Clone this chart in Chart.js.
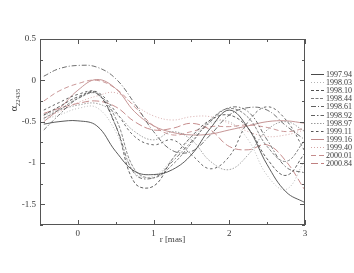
<!DOCTYPE html>
<html>
<head>
<meta charset="utf-8">
<script src="https://cdn.jsdelivr.net/npm/chart.js@4"></script>
<style>
  html, body { margin: 0; padding: 0; background: #fff; }
  #wrap { position: relative; width: 354px; height: 273px; }
</style>
</head>
<body>
<div id="wrap"><canvas id="c"></canvas></div>
<script>
// r [mas] sample positions
const rVals = [-0.45, -0.25, 0, 0.25, 0.5, 0.75, 1, 1.25, 1.5, 1.75, 2, 2.25, 2.5, 2.75, 3];

const epochs = ['1997.94', '1998.03', '1998.10', '1998.44', '1998.61', '1998.92',
  '1998.97', '1999.11', '1999.16', '1999.40', '2000.01', '2000.84'];

const s1997_94 = [-0.53, -0.5, -0.49, -0.55, -0.86, -1.1, -1.14, -1.08, -0.9, -0.58, -0.36, -0.58, -1.02, -1.35, -1.48];
const s1998_03 = [-0.47, -0.42, -0.34, -0.33, -0.62, -1.12, -1.16, -0.95, -0.7, -0.52, -0.5, -0.72, -1.15, -1.32, -0.96];
const s1998_10 = [-0.42, -0.32, -0.2, -0.15, -0.55, -1.24, -1.28, -0.95, -0.68, -0.48, -0.42, -0.58, -0.95, -1.15, -0.88];
const s1998_44 = [-0.46, -0.36, -0.22, -0.16, -0.46, -1.08, -1.18, -1.02, -0.76, -0.48, -0.34, -0.45, -0.8, -0.98, -0.72];
const s1998_61 = [0.05, 0.14, 0.18, 0.16, 0.02, -0.28, -0.62, -0.85, -0.86, -0.66, -0.42, -0.33, -0.36, -0.55, -0.72];
const s1998_92 = [-0.6, -0.42, -0.22, -0.16, -0.55, -1.13, -1.18, -0.98, -0.74, -0.5, -0.33, -0.38, -0.72, -1.05, -1.12];
const s1998_97 = [-0.42, -0.36, -0.3, -0.28, -0.4, -0.62, -0.72, -0.62, -0.72, -0.98, -1.08, -0.9, -0.6, -0.5, -0.62];
const s1999_11 = [-0.36, -0.27, -0.17, -0.14, -0.38, -0.68, -0.78, -0.72, -0.9, -1.07, -0.92, -0.5, -0.32, -0.48, -0.86];
const s1999_16 = [-0.5, -0.35, -0.12, 0.01, -0.1, -0.38, -0.55, -0.63, -0.66, -0.65, -0.6, -0.55, -0.5, -0.49, -0.52];
const s1999_40 = [-0.45, -0.38, -0.27, -0.19, -0.15, -0.3, -0.43, -0.48, -0.44, -0.44, -0.52, -0.62, -0.68, -0.66, -0.6];
const s2000_01 = [-0.25, -0.13, -0.04, 0.0, -0.1, -0.32, -0.55, -0.66, -0.62, -0.56, -0.56, -0.54, -0.57, -0.62, -0.58];
const s2000_84 = [-0.4, -0.34, -0.28, -0.25, -0.32, -0.5, -0.6, -0.58, -0.52, -0.6, -0.8, -0.84, -0.78, -0.98, -1.33];

const xTicks = [0, 1, 2, 3];
const yTicks = [-1.5, -1, -0.5, 0, 0.5];

const series = [s1997_94, s1998_03, s1998_10, s1998_44, s1998_61, s1998_92,
  s1998_97, s1999_11, s1999_16, s1999_40, s2000_01, s2000_84];

// line styles per epoch
const styles = [
  { color: '#4a4a4a', dash: [] },
  { color: '#b4b4b4', dash: [1, 2] },
  { color: '#505050', dash: [3, 2] },
  { color: '#7a7a7a', dash: [3, 1.5] },
  { color: '#606060', dash: [5, 2, 1, 2] },
  { color: '#606060', dash: [4, 2, 1.5, 2] },
  { color: '#9a9a9a', dash: [1.5, 1.5] },
  { color: '#555555', dash: [2.5, 2.5] },
  { color: '#c08a8a', dash: [] },
  { color: '#d4a4a4', dash: [1, 2] },
  { color: '#c58c8c', dash: [5, 3] },
  { color: '#c08080', dash: [7, 3] }
];

const SERIF = '"Liberation Serif", "DejaVu Serif", serif';
const INK = '#3a3a3a';

const frame = {
  id: 'frame',
  afterDraw(chart) {
    const { ctx, chartArea: a, scales: { x, y } } = chart;
    ctx.save();
    ctx.strokeStyle = '#555';
    ctx.lineWidth = 1;
    ctx.setLineDash([]);
    ctx.strokeRect(a.left + 0.5, a.top + 0.5, a.right - a.left - 1, a.bottom - a.top - 1);
    ctx.beginPath();
    // inward ticks on all four sides
    for (let v = 0; v <= 3.001; v += 0.5) {
      const px = Math.round(x.getPixelForValue(v)) + 0.5;
      const len = Number.isInteger(v) ? 5 : 3;
      ctx.moveTo(px, a.bottom); ctx.lineTo(px, a.bottom - len);
      ctx.moveTo(px, a.top); ctx.lineTo(px, a.top + len);
    }
    for (let v = -1.75; v <= 0.5001; v += 0.25) {
      const py = Math.round(y.getPixelForValue(v)) + 0.5;
      const len = Math.abs(v * 2 - Math.round(v * 2)) < 1e-6 ? 5 : 3;
      ctx.moveTo(a.left, py); ctx.lineTo(a.left + len, py);
      ctx.moveTo(a.right, py); ctx.lineTo(a.right - len, py);
    }
    ctx.stroke();

    // y axis title: alpha with subscript
    ctx.fillStyle = INK;
    ctx.translate(14, 100);
    ctx.rotate(-Math.PI / 2);
    ctx.textBaseline = 'alphabetic';
    ctx.textAlign = 'left';
    ctx.font = '10px ' + SERIF;
    const aw = ctx.measureText('α').width;
    const sub = '22435';
    ctx.font = '7px ' + SERIF;
    const sw = ctx.measureText(sub).width;
    const x0 = -(aw + sw) / 2;
    ctx.font = '10px ' + SERIF;
    ctx.fillText('α', x0, 3);
    ctx.font = '7px ' + SERIF;
    ctx.fillText(sub, x0 + aw, 6);
    ctx.restore();

    // legend
    ctx.save();
    ctx.font = '8px ' + SERIF;
    ctx.textBaseline = 'middle';
    ctx.textAlign = 'left';
    epochs.forEach((lab, i) => {
      const ly = Math.round(74 + i * 8.1) + 0.5;
      const st = styles[i];
      ctx.strokeStyle = st.color;
      ctx.lineWidth = 1;
      ctx.setLineDash(st.dash);
      ctx.beginPath();
      ctx.moveTo(311, ly); ctx.lineTo(324, ly);
      ctx.stroke();
      ctx.fillStyle = INK;
      ctx.fillText(lab, 326, ly);
    });
    ctx.restore();
  }
};

const datasets = series.map((vals, i) => ({
  label: epochs[i],
  data: vals.map((v, j) => ({ x: rVals[j], y: v })),
  borderColor: styles[i].color,
  borderDash: styles[i].dash,
  borderWidth: 0.9,
  pointRadius: 0,
  tension: 0.4,
  fill: false
}));

new Chart(document.getElementById('c'), {
  type: 'line',
  data: { datasets },
  options: {
    responsive: true,
    maintainAspectRatio: false,
    animation: false,
    layout: { padding: { left: 0, top: 39, right: 49, bottom: 28 } },
    plugins: { legend: { display: false }, tooltip: { enabled: false } },
    scales: {
      x: {
        type: 'linear',
        min: -0.5,
        max: 3,
        afterFit: s => { s.height = 20; },
        afterBuildTicks: s => { s.ticks = xTicks.map(v => ({ value: v })); },
        grid: { display: false, drawTicks: false },
        border: { display: false },
        ticks: { color: INK, padding: 3, maxRotation: 0, font: { family: SERIF, size: 9 }, callback: v => String(v) },
        title: { display: true, text: 'r [mas]', color: INK, padding: 0, font: { family: SERIF, size: 9 } }
      },
      y: {
        type: 'linear',
        min: -1.75,
        max: 0.5,
        afterFit: s => { s.width = 40; },
        afterBuildTicks: s => { s.ticks = yTicks.map(v => ({ value: v })); },
        grid: { display: false, drawTicks: false },
        border: { display: false },
        ticks: { color: INK, padding: 4, font: { family: SERIF, size: 9 }, callback: v => String(v) }
      }
    }
  },
  plugins: [frame]
});
</script>
</body>
</html>
